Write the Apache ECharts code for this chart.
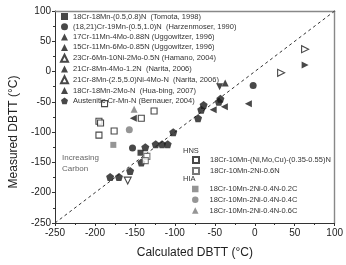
<!DOCTYPE html>
<html>
<head>
<meta charset="utf-8">
<script src="https://cdn.jsdelivr.net/npm/echarts@6/dist/echarts.min.js"></script>
<style>
  html, body { margin: 0; padding: 0; background: #fff; }
  #chart { width: 346px; height: 265px; }
</style>
</head>
<body>
<div id="chart"></div>
<script>
// data, [calculated, measured] in degC
const tomota = [[-143, -134]]
const harzen = [[-153, -126], [-2, -23]]
const ugg17 = [[-37, -19]]
const ugg15 = [[-44, -25]]
const hamano = [[-159, -180]]
const narita12 = [[63, 11]]
const naritaNi = [[33, -2], [63, 37]]
const huabing = [[-152, -77], [-52, -63], [-38, -58], [-8, -53]]
const bernauer = [[-181, -174], [-170, -174], [-156, -164], [-142, -150], [-137, -125], [-124, -120],
  [-116, -120], [-109, -120], [-102, -100], [-71, -77], [-67, -63], [-64, -55], [-45, -50], [-43, -45]]
const hnsA = [[-188, -53], [-195, -82], [-193, -85], [-195, -105], [-176, -98], [-142, -77], [-126, -65]]
const hnsB = [[-135, -140], [-137, -147]]
const hia02 = [[-177, -121]]
const hia04 = [[-157, -96]]
const hia06 = [[-151, -62]]
const diagLine = [[-250, -250], [100, 100]]

const names = [
  '18Cr-18Mn-(0.5,0.8)N  (Tomota, 1998)',
  '(18,21)Cr-19Mn-(0.5,1.0)N  (Harzenmoser, 1990)',
  '17Cr-11Mn-4Mo-0.88N (Uggowitzer, 1996)',
  '15Cr-11Mn-6Mo-0.85N (Uggowitzer, 1996)',
  '23Cr-6Mn-10Ni-2Mo-0.5N (Hamano, 2004)',
  '21Cr-8Mn-4Mo-1.2N  (Narita, 2006)',
  '21Cr-8Mn-(2.5,5.0)Ni-4Mo-N  (Narita, 2006)',
  '18Cr-18Mn-2Mo-N  (Hua-bing, 2007)',
  'Austenitic Cr-Mn-N (Bernauer, 2004)'
]
const hnsNames = ['18Cr-10Mn-(Ni,Mo,Cu)-(0.35-0.55)N', '18Cr-10Mn-2Ni-0.6N']
const hiaNames = ['18Cr-10Mn-2Ni-0.4N-0.2C', '18Cr-10Mn-2Ni-0.4N-0.4C', '18Cr-10Mn-2Ni-0.4N-0.6C']

const pentagon = 'path://M0,-10 L9.5,-3.1 L5.9,8.1 L-5.9,8.1 L-9.5,-3.1 Z'
const black = '#1a1a1a'
const grey = '#7a7a7a'
const font = 'Liberation Sans, Arial, sans-serif'

function pts(name, data, symbol, opts) {
  const o = opts || {}
  return {
    name: name,
    type: 'scatter',
    data: data,
    symbol: symbol,
    symbolSize: o.size || 7,
    symbolRotate: o.rotate || 0,
    itemStyle: o.empty
      ? { color: '#fff', borderColor: o.stroke || black, borderWidth: 1.1 }
      : { color: o.fill || black },
    z: 3
  }
}

const chart = echarts.init(document.getElementById('chart'))

const axisCommon = {
  type: 'value',
  min: -250,
  max: 100,
  interval: 50,
  splitLine: { show: false }
}
const mainAxis = {
  axisLine: { show: true, onZero: false, lineStyle: { color: '#333', width: 1 } },
  axisTick: { show: true, inside: false, length: 3, lineStyle: { color: '#333' } },
  minorTick: { show: true, splitNumber: 2, length: 2, lineStyle: { color: '#333' } }
}
const sideAxis = {
  axisLine: { show: true, onZero: false, lineStyle: { color: '#888', width: 1.4 } },
  axisTick: { show: false },
  axisLabel: { show: false }
}

const legendText = { fontSize: 7.5, color: '#333', fontFamily: font, lineHeight: 7 }
const lowerText = { fontSize: 7.5, color: '#333', fontFamily: font, lineHeight: 7, padding: [0, 0, 0, 6] }

const option = {
  animation: false,
  grid: { left: 52, right: 10, top: 11, bottom: 42 },
  xAxis: [
    Object.assign({}, axisCommon, mainAxis, {
      position: 'bottom',
      axisLabel: { fontSize: 10, color: '#222', margin: 5, fontFamily: font },
      name: 'Calculated DBTT (°C)',
      nameLocation: 'middle',
      nameGap: 24,
      nameTextStyle: { fontSize: 12, color: '#222', fontFamily: font }
    }),
    Object.assign({}, axisCommon, sideAxis, { position: 'top' })
  ],
  yAxis: [
    Object.assign({}, axisCommon, mainAxis, {
      position: 'left',
      axisLabel: { fontSize: 10, color: '#222', margin: 4, fontFamily: font },
      name: 'Measured DBTT (°C)',
      nameLocation: 'middle',
      nameGap: 35,
      nameTextStyle: { fontSize: 12, color: '#222', fontFamily: font, padding: [0, 0, 0, -30] }
    }),
    Object.assign({}, axisCommon, sideAxis, { position: 'right' })
  ],
  legend: [
    {
      data: names,
      orient: 'vertical',
      left: 60,
      top: 12.5,
      itemWidth: 7,
      itemHeight: 7,
      itemGap: 2.3,
      padding: 0,
      textStyle: legendText
    },
    {
      data: hnsNames,
      orient: 'vertical',
      left: 192,
      top: 156,
      itemWidth: 6,
      itemHeight: 6,
      itemGap: 3,
      padding: 0,
      textStyle: lowerText
    },
    {
      data: hiaNames,
      orient: 'vertical',
      left: 192,
      top: 185,
      itemWidth: 6.5,
      itemHeight: 6.5,
      itemGap: 2.8,
      padding: 0,
      textStyle: lowerText
    }
  ],
  graphic: [
    { type: 'text', left: 183, top: 147, style: { text: 'HNS', fontSize: 7.5, fill: '#333', fontFamily: font } },
    { type: 'text', left: 183, top: 175, style: { text: 'HIA', fontSize: 7.5, fill: '#333', fontFamily: font } },
    { type: 'text', left: 62, top: 152, style: { text: 'Increasing\nCarbon', align: 'center', fontSize: 8, lineHeight: 11, fill: '#666', fontFamily: font } }
  ],
  series: [
    {
      type: 'line',
      data: diagLine,
      symbol: 'none',
      silent: true,
      lineStyle: { color: '#333', width: 1, type: [3, 3] },
      z: 1
    },
    pts(names[0], tomota, 'rect', { size: 6 }),
    pts(names[1], harzen, 'circle'),
    pts(names[2], ugg17, 'triangle'),
    pts(names[3], ugg15, 'triangle', { rotate: 180 }),
    pts(names[4], hamano, 'triangle', { rotate: 180, empty: true }),
    pts(names[5], narita12, 'triangle', { rotate: -90 }),
    pts(names[6], naritaNi, 'triangle', { rotate: -90, empty: true }),
    pts(names[7], huabing, 'triangle', { rotate: 90 }),
    pts(names[8], bernauer, pentagon, { size: 8 }),
    pts(hnsNames[0], hnsA, 'rect', { size: 6, empty: true }),
    pts(hnsNames[1], hnsB, 'rect', { size: 6, empty: true, stroke: '#555' }),
    pts(hiaNames[0], hia02, 'rect', { size: 6, fill: grey }),
    pts(hiaNames[1], hia04, 'circle', { fill: grey }),
    pts(hiaNames[2], hia06, 'triangle', { fill: grey })
  ]
}

chart.setOption(option)
</script>
</body>
</html>
